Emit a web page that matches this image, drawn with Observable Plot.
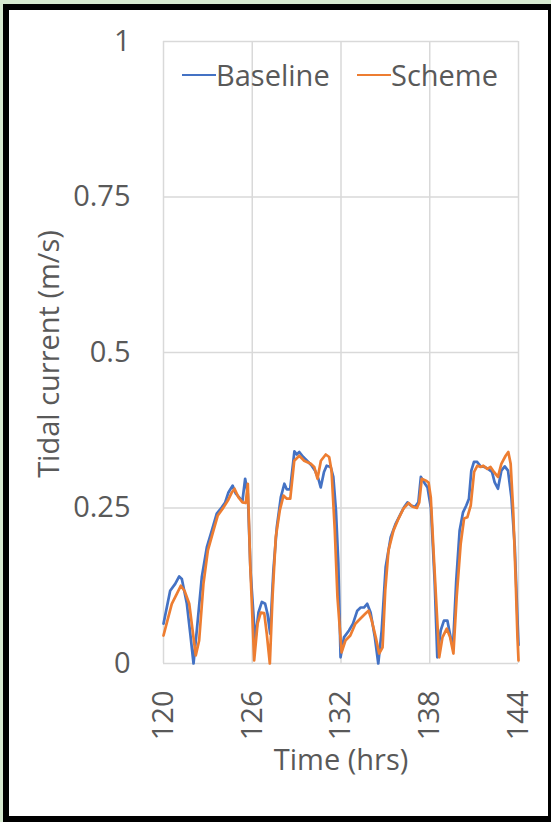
<!DOCTYPE html>
<html>
<head>
<meta charset="utf-8">
<script src="https://cdn.jsdelivr.net/npm/d3@7"></script>
<script src="https://cdn.jsdelivr.net/npm/@observablehq/plot@0.6"></script>
<style>
  html, body { margin: 0; padding: 0; }
  body { width: 551px; height: 822px; background: #d6e9d0; position: relative; overflow: hidden; font-family: "Open Sans", sans-serif; color: #595959; }
  #frame { position: absolute; left: 3px; top: 4px; width: 551px; height: 818px; box-sizing: border-box; border: 6px solid #000; background: #fff; }
  #chart { position: absolute; left: 9px; top: 10px; }
  .title { position: absolute; font-size: 29px; line-height: 1; white-space: nowrap; color: #595959; }
  .legend { position: absolute; top: 58px; left: 0; font-size: 29px; line-height: 34px; color: #595959; white-space: nowrap; }
  .legend .item { position: absolute; top: 0; display: flex; align-items: center; }
  .legend .sw { display: inline-block; width: 34px; height: 2.6px; }
</style>
</head>
<body>
<div id="frame"></div>
<div id="chart"></div>
<div class="title" id="ytitle" style="left:47px; top:354px; transform: translate(-50%,-50%) rotate(-90deg);">Tidal current (m/s)</div>
<div class="title" id="xtitle" style="left:341px; top:758px; transform: translate(-50%,-50%);">Time (hrs)</div>
<div class="legend">
  <div class="item" style="left:182px;"><span class="sw" style="background:#4472C4"></span><span>Baseline</span></div>
  <div class="item" style="left:357px;"><span class="sw" style="background:#ED7D31"></span><span>Scheme</span></div>
</div>
<script>
// Series names
const seriesNames = ["Baseline", "Scheme"];

// Baseline (blue) – time (hrs) and tidal current (m/s)
const baselineTime = [120.00,120.45,120.79,121.06,121.24,121.58,121.81,122.03,122.25,122.59,122.93,123.27,123.60,123.94,124.17,124.39,124.67,124.89,125.19,125.34,125.52,125.70,125.88,126.20,126.42,126.65,126.87,127.03,127.21,127.43,127.66,127.93,128.17,128.33,128.56,128.85,129.01,129.18,129.45,129.79,130.02,130.25,130.47,130.63,130.85,131.03,131.30,131.48,131.66,131.82,131.97,132.20,132.54,132.81,133.10,133.33,133.55,133.77,134.00,134.29,134.52,134.75,135.02,135.36,135.70,136.04,136.26,136.49,136.72,137.01,137.23,137.40,137.62,137.85,138.08,138.33,138.51,138.74,138.96,139.19,139.41,139.57,139.79,140.02,140.25,140.47,140.65,140.81,140.99,141.21,141.44,141.71,141.94,142.21,142.39,142.61,142.84,143.07,143.29,143.52,143.75,143.95,144.00];
const baselineValue = [0.064,0.117,0.128,0.140,0.136,0.096,0.048,0.000,0.053,0.139,0.187,0.214,0.241,0.251,0.259,0.275,0.286,0.273,0.265,0.262,0.297,0.273,0.150,0.037,0.082,0.099,0.096,0.080,0.048,0.150,0.219,0.267,0.289,0.280,0.280,0.341,0.336,0.340,0.332,0.324,0.318,0.310,0.297,0.283,0.308,0.318,0.316,0.300,0.246,0.161,0.010,0.042,0.053,0.064,0.085,0.090,0.090,0.096,0.082,0.042,0.000,0.053,0.155,0.203,0.225,0.241,0.251,0.259,0.254,0.252,0.259,0.300,0.291,0.283,0.250,0.133,0.010,0.053,0.069,0.069,0.042,0.026,0.133,0.214,0.243,0.254,0.265,0.310,0.324,0.324,0.317,0.316,0.313,0.308,0.291,0.281,0.310,0.317,0.310,0.267,0.187,0.060,0.030];

// Scheme (orange)
const schemeTime = [120.00,120.56,120.90,121.17,121.42,121.74,121.91,122.18,122.41,122.70,123.00,123.38,123.67,124.06,124.35,124.62,124.80,125.07,125.34,125.56,125.70,125.86,126.13,126.36,126.58,126.81,126.98,127.19,127.37,127.59,127.86,128.11,128.34,128.57,128.84,129.18,129.51,129.96,130.19,130.41,130.64,130.97,131.20,131.36,131.58,131.76,132.04,132.30,132.63,132.97,133.30,133.64,133.86,134.08,134.35,134.58,134.81,134.99,135.21,135.55,135.89,136.22,136.57,136.84,137.13,137.29,137.46,137.74,137.92,138.07,138.30,138.64,138.86,139.15,139.38,139.60,139.82,140.09,140.32,140.54,140.77,141.00,141.22,141.44,141.62,141.89,142.11,142.34,142.61,142.84,143.13,143.31,143.47,143.65,143.81,143.93,144.00];
const schemeValue = [0.045,0.096,0.112,0.125,0.117,0.096,0.064,0.013,0.037,0.128,0.182,0.214,0.238,0.251,0.262,0.275,0.281,0.267,0.259,0.258,0.289,0.161,0.005,0.064,0.082,0.081,0.048,0.000,0.107,0.203,0.246,0.270,0.265,0.265,0.326,0.334,0.326,0.321,0.316,0.297,0.326,0.336,0.332,0.310,0.214,0.107,0.018,0.037,0.045,0.064,0.072,0.080,0.085,0.069,0.042,0.016,0.026,0.117,0.182,0.214,0.233,0.249,0.258,0.252,0.250,0.259,0.297,0.294,0.291,0.267,0.161,0.010,0.042,0.056,0.042,0.016,0.107,0.192,0.233,0.235,0.254,0.308,0.318,0.316,0.318,0.313,0.316,0.308,0.300,0.321,0.334,0.340,0.321,0.241,0.133,0.042,0.005];

// Axis ticks
const xTicks = [120, 126, 132, 138, 144];
const yTicks = [0, 0.25, 0.5, 0.75, 1];
const yTickLabels = ["0", "0.25", "0.5", "0.75", "1"];

const colors = ["#4472C4", "#ED7D31"];

const baseline = baselineTime.map((t, i) => ({series: seriesNames[0], t, v: baselineValue[i]}));
const scheme = schemeTime.map((t, i) => ({series: seriesNames[1], t, v: schemeValue[i]}));

const chart = Plot.plot({
  width: 539,
  height: 806,
  marginLeft: 154,
  marginRight: 30,
  marginTop: 31,
  marginBottom: 153,
  style: {fontFamily: "'Open Sans', sans-serif", fontSize: "29px", color: "#595959", background: "white", overflow: "visible"},
  x: {domain: [120, 144]},
  y: {domain: [0, 1]},
  marks: [
    Plot.gridX(xTicks, {stroke: "#d9d9d9", strokeOpacity: 1, strokeWidth: 1.5}),
    Plot.gridY(yTicks, {stroke: "#d9d9d9", strokeOpacity: 1, strokeWidth: 1.5}),
    Plot.axisY(yTicks, {tickSize: 0, tickPadding: 33, label: null, tickFormat: (d, i) => yTickLabels[i], fill: "#595959"}),
    Plot.axisX(xTicks, {tickSize: 0, tickPadding: 27, tickRotate: -90, label: null, tickFormat: d => String(d), fill: "#595959"}),
    Plot.line(baseline, {x: "t", y: "v", stroke: colors[0], strokeWidth: 2.7}),
    Plot.line(scheme, {x: "t", y: "v", stroke: colors[1], strokeWidth: 2.7})
  ]
});
document.getElementById("chart").appendChild(chart);
</script>
</body>
</html>
